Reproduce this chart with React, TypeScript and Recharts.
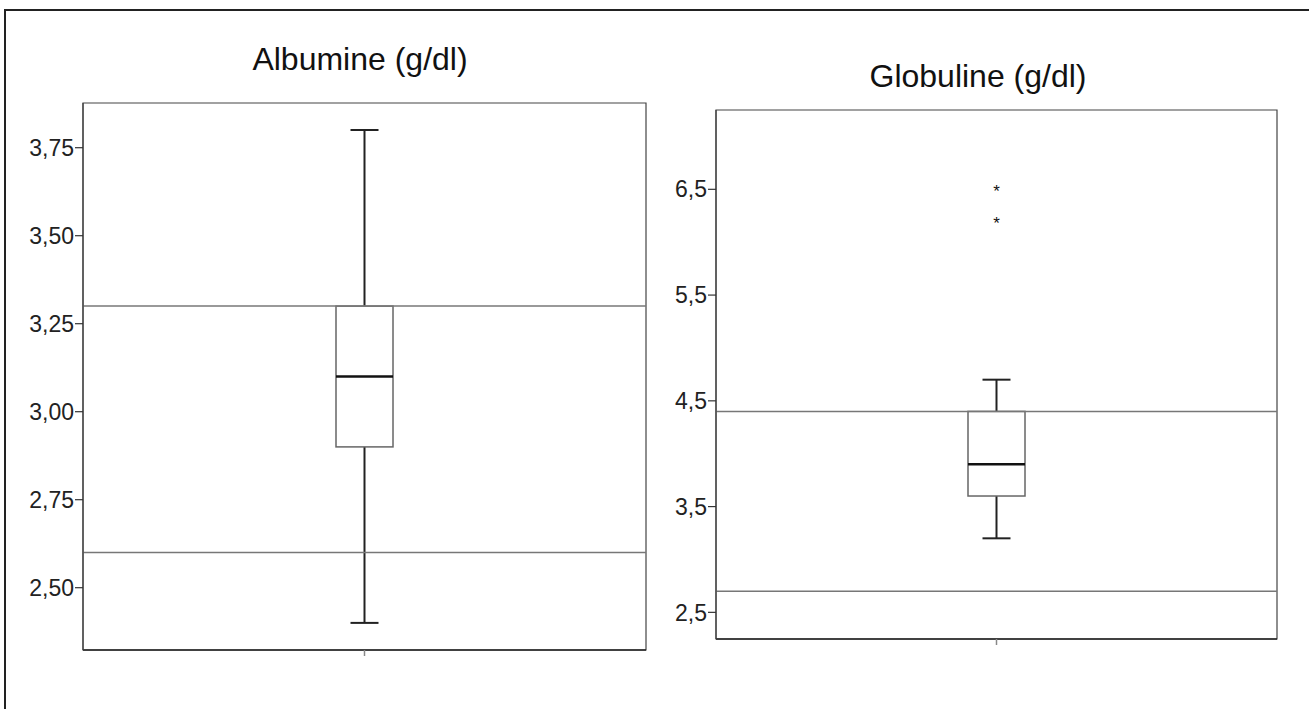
import React from 'react';
import { ComposedChart, Bar, XAxis, YAxis, ReferenceLine, ReferenceArea, ReferenceDot } from 'recharts';

// Albumine box plot values
const albCategory = ['Albumine'];
const albMin = [2.4];
const albQ1 = [2.9];
const albMedian = [3.1];
const albQ3 = [3.3];
const albMax = [3.8];
const albNormalRange = [2.6, 3.3];
const albTicks = [2.5, 2.75, 3.0, 3.25, 3.5, 3.75];
const albDomain = [2.323, 3.877];

// Globuline box plot values
const globCategory = ['Globuline'];
const globMin = [3.2];
const globQ1 = [3.6];
const globMedian = [3.9];
const globQ3 = [4.4];
const globMax = [4.7];
const globOutliers = [6.5, 6.2];
const globNormalRange = [2.7, 4.4];
const globTicks = [2.5, 3.5, 4.5, 5.5, 6.5];
const globDomain = [2.248, 7.25];

const FONT = '"Liberation Sans", Arial, sans-serif';

const buildRows = (cats, mins, q1s, meds, q3s, maxs) =>
  cats.map((name, i) => ({
    name,
    range: [mins[i], maxs[i]],
    min: mins[i],
    q1: q1s[i],
    median: meds[i],
    q3: q3s[i],
    max: maxs[i],
  }));

const albData = buildRows(albCategory, albMin, albQ1, albMedian, albQ3, albMax);
const globData = buildRows(globCategory, globMin, globQ1, globMedian, globQ3, globMax);

// draws whiskers, box and median inside the min..max bar
const BoxShape = (props: any) => {
  const { x, y, width, height, payload } = props;
  const { min, q1, median, q3, max } = payload;
  const py = (v: number) => y + (height * (max - v)) / (max - min);
  const cx = x + width / 2;
  const cap = 14;
  return (
    <g>
      <line x1={cx} x2={cx} y1={py(max)} y2={py(q3)} stroke="#222" strokeWidth={2} />
      <line x1={cx} x2={cx} y1={py(q1)} y2={py(min)} stroke="#222" strokeWidth={2} />
      <line x1={cx - cap} x2={cx + cap} y1={py(max)} y2={py(max)} stroke="#222" strokeWidth={2} />
      <line x1={cx - cap} x2={cx + cap} y1={py(min)} y2={py(min)} stroke="#222" strokeWidth={2} />
      <rect x={x} y={py(q3)} width={width} height={py(q1) - py(q3)} fill="#fff" stroke="#666" strokeWidth={1.5} />
      <line x1={x} x2={x + width} y1={py(median)} y2={py(median)} stroke="#111" strokeWidth={2.5} />
    </g>
  );
};

const Star = (props: any) => (
  <text x={props.cx} y={props.cy + 8} textAnchor="middle" fontSize={17} fontFamily={FONT} fill="#111">
    *
  </text>
);

const fmt2 = (v: number) => v.toFixed(2).replace('.', ',');
const fmt1 = (v: number) => v.toFixed(1).replace('.', ',');

const BoxPanel = ({ data, domain, ticks, fmt, normal, outliers, margin, width, height }: any) => (
  <ComposedChart width={width} height={height} data={data} margin={margin}>
    <ReferenceArea y1={domain[0]} y2={domain[1]} fill="none" stroke="#444" strokeWidth={1.2} ifOverflow="visible" />
    {normal.map((v: number) => (
      <ReferenceLine key={v} y={v} stroke="#777" strokeWidth={1.5} />
    ))}
    <XAxis
      dataKey="name"
      height={12}
      tickFormatter={() => ''}
      tickSize={6}
      axisLine={{ stroke: '#222', strokeWidth: 1.5 }}
      tickLine={{ stroke: '#888', strokeWidth: 1.5 }}
    />
    <YAxis
      type="number"
      domain={domain}
      ticks={ticks}
      allowDataOverflow
      width={60}
      tickFormatter={fmt}
      tickSize={8}
      tickMargin={1}
      axisLine={{ stroke: '#444', strokeWidth: 1.2 }}
      tickLine={{ stroke: '#333', strokeWidth: 1.2 }}
      tick={{ fill: '#222', fontSize: 23, fontFamily: FONT }}
    />
    <Bar dataKey="range" barSize={57} shape={BoxShape} isAnimationActive={false} />
    {outliers.map((v: number, i: number) => (
      <ReferenceDot key={i} x={data[0].name} y={v} shape={Star} />
    ))}
  </ComposedChart>
);

const titleStyle: React.CSSProperties = {
  position: 'absolute',
  fontFamily: FONT,
  fontSize: 32,
  lineHeight: '37px',
  color: '#111',
  textAlign: 'center',
  whiteSpace: 'nowrap',
};

export default function App() {
  return (
    <div style={{ position: 'fixed', left: 0, top: 0, width: 1309, height: 709, background: '#fff', overflow: 'hidden' }}>
      <div style={{ position: 'absolute', left: 4, top: 9, width: 1400, height: 800, borderTop: '2px solid #222', borderLeft: '2px solid #222' }} />
      <div style={{ ...titleStyle, left: 80, width: 560, top: 41 }}>Albumine (g/dl)</div>
      <div style={{ ...titleStyle, left: 698, width: 560, top: 58 }}>Globuline (g/dl)</div>
      <div style={{ position: 'absolute', left: 0, top: 0 }}>
        <BoxPanel
          data={albData}
          domain={albDomain}
          ticks={albTicks}
          fmt={fmt2}
          normal={albNormalRange}
          outliers={[]}
          width={660}
          height={700}
          margin={{ top: 103, left: 23, right: 14, bottom: 38 }}
        />
      </div>
      <div style={{ position: 'absolute', left: 650, top: 0 }}>
        <BoxPanel
          data={globData}
          domain={globDomain}
          ticks={globTicks}
          fmt={fmt1}
          normal={globNormalRange}
          outliers={globOutliers}
          width={640}
          height={700}
          margin={{ top: 110, left: 6, right: 13, bottom: 49 }}
        />
      </div>
    </div>
  );
}
